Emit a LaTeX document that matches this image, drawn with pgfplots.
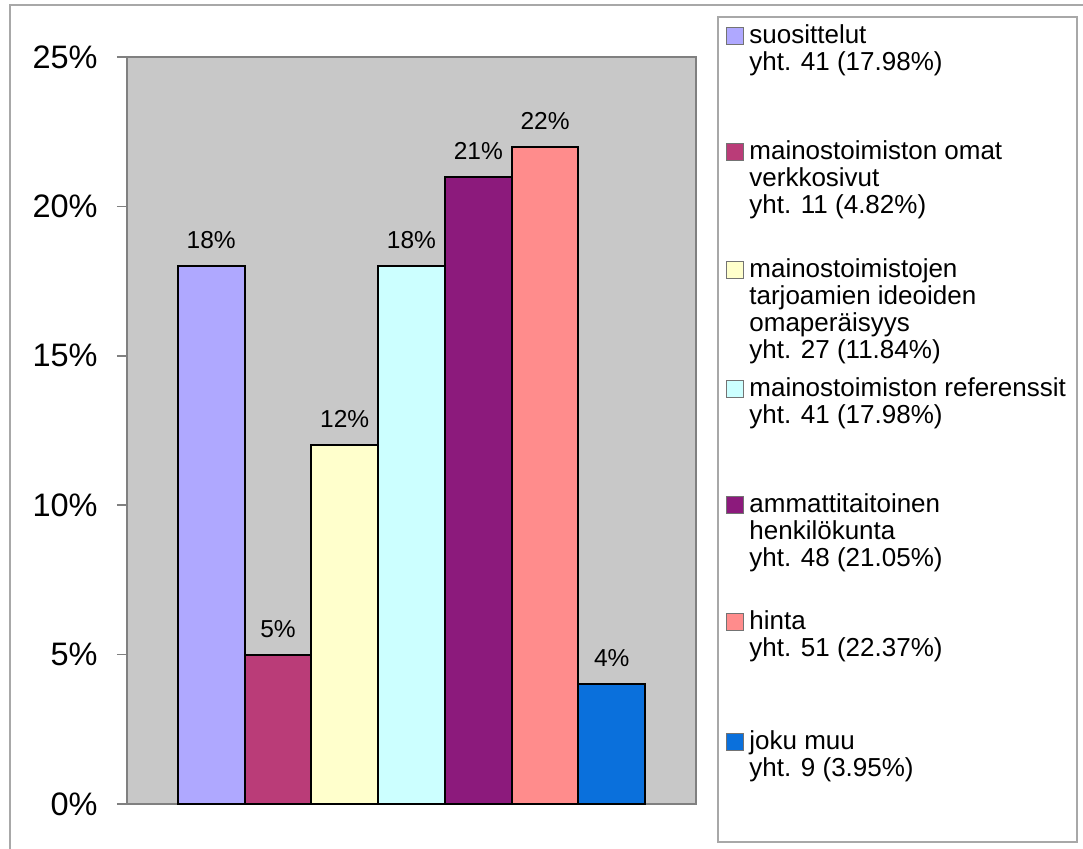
\documentclass[border=0pt]{standalone}
\usepackage{pgfplots}
\pgfplotsset{compat=1.18}
\usepackage{fontspec}
\setmainfont{Liberation Sans}

\definecolor{c1}{HTML}{AFA8FF}
\definecolor{c2}{HTML}{BA3C78}
\definecolor{c3}{HTML}{FFFFCC}
\definecolor{c4}{HTML}{CCFFFF}
\definecolor{c5}{HTML}{8C1A7C}
\definecolor{c6}{HTML}{FF8C8C}
\definecolor{c7}{HTML}{0A70DC}
\definecolor{plotgray}{HTML}{C8C8C8}
\definecolor{axisgray}{HTML}{808080}
\definecolor{framegray}{HTML}{A8A8A8}

% legend entry: baseline (px), colour, lines
\newcommand{\legentry}[3]{%
  \fill[#2, draw=black!55, line width=0.4pt] (726,#1-17) rectangle (743,#1);
  \node[anchor=base west, inner sep=0pt, font=\fontsize{13}{13.5}\selectfont]
    at (749,#1) {\vtop{#3}};
}

\begin{document}
\begin{tikzpicture}[x=0.5pt,y=-0.5pt]
\useasboundingbox (0,0) rectangle (1083,849);
\draw[line width=0.75pt, color=framegray] (10,849) -- (10,5) -- (1083,5);

\begin{axis}[
  at={(63.5pt,-28.5pt)}, anchor=north west,
  width=284.5pt, height=373.5pt, scale only axis,
  xmin=-1.261, xmax=7.261, ymin=0, ymax=25,
  axis background/.style={fill=plotgray},
  axis line style={draw=axisgray, line width=1pt},
  xtick=\empty,
  ytick={0,5,...,25},
  yticklabels={0\%,5\%,10\%,15\%,20\%,25\%},
  ytick pos=left,
  tick align=outside,
  major tick length=5pt,
  tick style={draw=axisgray, line width=0.75pt},
  yticklabel style={font=\fontsize{16.25}{18}\selectfont, inner sep=0pt, xshift=-9.5pt},
  bar width=1,
  nodes near coords={\pgfmathprintnumber[assume math mode=true]{\pgfplotspointmeta}\%},
  every node near coord/.append style={font=\fontsize{12.25}{14}\selectfont,
    anchor=base, yshift=8.75pt, inner sep=0pt, text=black},
  clip=false,
]
\addplot[ybar, bar shift=0pt, fill=c1, draw=black, line width=1pt] coordinates {(0,18)};
\addplot[ybar, bar shift=0pt, fill=c2, draw=black, line width=1pt] coordinates {(1,5)};
\addplot[ybar, bar shift=0pt, fill=c3, draw=black, line width=1pt] coordinates {(2,12)};
\addplot[ybar, bar shift=0pt, fill=c4, draw=black, line width=1pt] coordinates {(3,18)};
\addplot[ybar, bar shift=0pt, fill=c5, draw=black, line width=1pt] coordinates {(4,21)};
\addplot[ybar, bar shift=0pt, fill=c6, draw=black, line width=1pt] coordinates {(5,22)};
\addplot[ybar, bar shift=0pt, fill=c7, draw=black, line width=1pt] coordinates {(6,4)};
\end{axis}

% legend
\draw[line width=0.75pt, color=framegray, fill=white] (718,17) rectangle (1077,842);
\legentry{44}{c1}{\hbox{suosittelut}\hbox{yht. 41 (17.98\%)}}
\legentry{160}{c2}{\hbox{mainostoimiston omat}\hbox{verkkosivut}\hbox{yht. 11 (4.82\%)}}
\legentry{278}{c3}{\hbox{mainostoimistojen}\hbox{tarjoamien ideoiden}\hbox{omaperäisyys}\hbox{yht. 27 (11.84\%)}}
\legentry{397}{c4}{\hbox{mainostoimiston referenssit}\hbox{yht. 41 (17.98\%)}}
\legentry{513}{c5}{\hbox{ammattitaitoinen}\hbox{henkilökunta}\hbox{yht. 48 (21.05\%)}}
\legentry{630}{c6}{\hbox{hinta}\hbox{yht. 51 (22.37\%)}}
\legentry{750}{c7}{\hbox{joku muu}\hbox{yht. 9 (3.95\%)}}
\end{tikzpicture}
\end{document}
